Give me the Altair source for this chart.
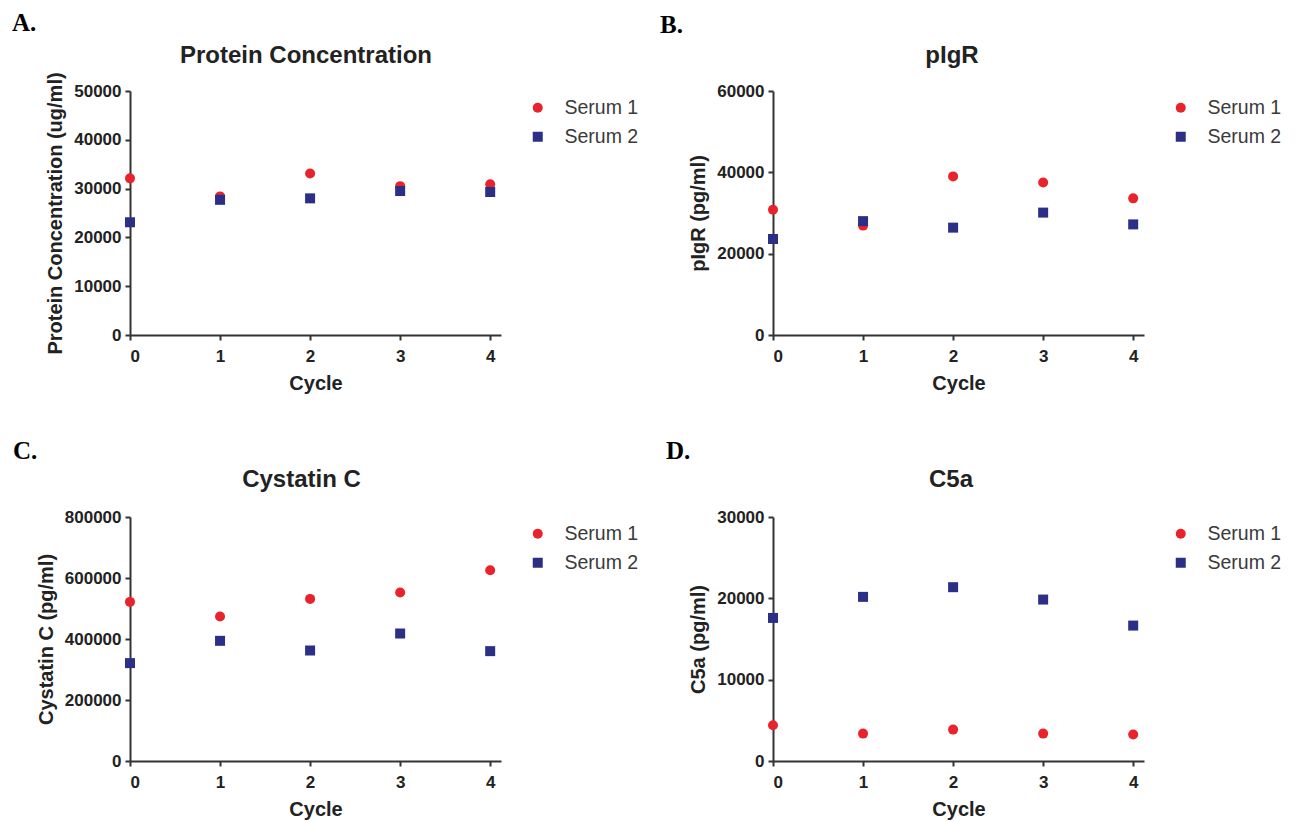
import altair as alt
import pandas as pd

cycles = [0, 1, 2, 3, 4]
series_names = ["Serum 1", "Serum 2"]

protein_s1 = [32100, 28400, 33100, 30500, 30900]
protein_s2 = [23100, 27700, 28000, 29500, 29300]

pigr_s1 = [30800, 26900, 39000, 37500, 33600]
pigr_s2 = [23600, 28000, 26400, 30100, 27200]

cystatin_s1 = [521700, 473700, 531500, 552300, 625400]
cystatin_s2 = [320900, 394000, 362300, 418000, 360200]

c5a_s1 = [4400, 3370, 3860, 3370, 3250]
c5a_s2 = [17590, 20180, 21370, 19850, 16650]

RED = "#e8232b"
NAVY = "#2b2f86"
SANS = "Liberation Sans"
W, H = 371, 244


def legend():
    return alt.Legend(title=None, orient="none", legendX=W + 27, legendY=7,
                      labelOffset=17, rowPadding=8, padding=0,
                      labelFont=SANS, labelFontSize=19.5, labelColor="#3a3a3a",
                      symbolSize=100, symbolStrokeWidth=0)


def panel(s1, s2, ymax, ystep, ytitle, title, tdx, tdy, letter, lx, ly):
    df = pd.DataFrame({
        "cycle": cycles + cycles,
        "value": s1 + s2,
        "series": [series_names[0]] * len(cycles) + [series_names[1]] * len(cycles),
    })
    pts = alt.Chart(df).mark_point(filled=True, opacity=1, size=100).encode(
        x=alt.X("cycle:Q",
                scale=alt.Scale(domain=[0, 4.12], nice=False),
                axis=alt.Axis(values=cycles, format="d", title="Cycle",
                              labelPadding=8, titlePadding=9)),
        y=alt.Y("value:Q",
                scale=alt.Scale(domain=[0, ymax], nice=False),
                axis=alt.Axis(values=list(range(0, ymax + 1, ystep)), format="d",
                              title=ytitle, labelPadding=4, titlePadding=8)),
        color=alt.Color("series:N",
                        scale=alt.Scale(domain=series_names, range=[RED, NAVY]),
                        legend=legend()),
        shape=alt.Shape("series:N",
                        scale=alt.Scale(domain=series_names, range=["circle", "square"]),
                        legend=legend()),
    )
    lab = alt.Chart(pd.DataFrame({"t": [letter]})).mark_text(
        font="Liberation Serif", fontWeight="bold", fontSize=25, align="left",
        baseline="alphabetic", color="black"
    ).encode(x=alt.value(lx), y=alt.value(ly), text="t:N")
    ttl = alt.Chart(pd.DataFrame({"t": [title]})).mark_text(
        font=SANS, fontWeight="bold", fontSize=24, align="center",
        baseline="alphabetic", color="#222222"
    ).encode(x=alt.value(W / 2 + tdx), y=alt.value(tdy), text="t:N")
    return alt.layer(pts, ttl, lab).properties(width=W, height=H).resolve_legend(
        color="independent", shape="independent")


pA = panel(protein_s1, protein_s2, 50000, 10000, "Protein Concentration (ug/ml)",
           "Protein Concentration", -9.5, -28, "A.", -118, -60.5)
pB = panel(pigr_s1, pigr_s2, 60000, 20000, "pIgR (pg/ml)", "pIgR", -6.5, -28,
           "B.", -113, -58)
pC = panel(cystatin_s1, cystatin_s2, 800000, 200000, "Cystatin C (pg/ml)",
           "Cystatin C", -14, -30, "C.", -117, -58)
pD = panel(c5a_s1, c5a_s2, 30000, 10000, "C5a (pg/ml)", "C5a", -7.5, -30,
           "D.", -107, -58)

chart = alt.concat(pA, pB, pC, pD, columns=2, spacing={"row": 182, "column": 272},
                   bounds="flush").resolve_scale(
    color="independent", shape="independent", x="independent", y="independent"
).resolve_legend(color="independent", shape="independent").properties(
    padding={"left": 4, "top": 2, "right": 5, "bottom": 5}
).configure_view(stroke=None).configure_axis(
    grid=False, domainColor="#333333", domainWidth=2, tickColor="#333333", tickWidth=2,
    tickSize=5, labelFont=SANS, labelFontSize=17, labelFontWeight="bold", labelColor="#222222",
    titleFont=SANS, titleFontSize=20, titleFontWeight="bold", titleColor="#222222"
)

chart.save("out.html", embed_options={"renderer": "svg", "actions": False})
